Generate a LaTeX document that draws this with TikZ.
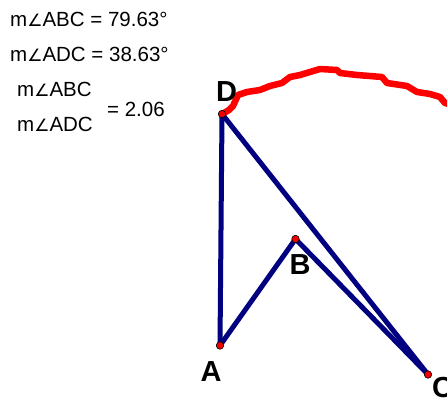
\documentclass[tikz,border=0pt]{standalone}
\usepackage{fontspec}
\setmainfont{Liberation Sans}
\newfontfamily\symfont{DejaVu Sans}
\usetikzlibrary{positioning}
\definecolor{navy}{HTML}{000080}
\definecolor{trace}{HTML}{FF0000}
\definecolor{ptred}{HTML}{F00000}
\newcommand{\ang}{{\symfont\fontsize{17}{17}\selectfont ∠}}
\tikzset{
  seg/.style={line width=5pt,draw=navy,line cap=round},
  locus/.style={line width=6.5pt,draw=trace,line join=round,line cap=round},
  pt/.style={circle,draw=black,fill=ptred,line width=0.6pt,inner sep=0pt,minimum size=7.5pt},
  ptlabel/.style={font=\fontsize{29}{29}\selectfont\bfseries,inner sep=0pt},
  measure/.style={font=\fontsize{20.5}{20.5}\selectfont,inner sep=0pt,anchor=base west}
}
\begin{document}
\begin{tikzpicture}[x=1pt,y=1pt]
  \useasboundingbox (0,0) rectangle (447,399);
  \clip (0,0) rectangle (447,399);

  \node[measure] (mabc) at (10,372) {m\ang ABC = 79.63°};
  \node[measure] (madc) at (10,337) {m\ang ADC = 38.63°};
  \node[measure] (num) at (17,302) {m\ang ABC};
  \node[measure] (den) at (17,267) {m\ang ADC};
  \node[measure,anchor=west] (ratio) at (107,290) {= 2.06};

  \draw[locus] plot coordinates {(224,286) (229,289) (233,293) (238,304) (247,307) (260,309)
    (270,313) (282,316) (290,322) (300,324) (310,327) (320,330) (337,329) (340,326)
    (357,324) (382,322) (387,316) (407,313) (417,307) (430,305) (440,302) (445,296) (452,294)};

  \coordinate (D) at (222,285);
  \coordinate (A) at (220,53.5);
  \coordinate (B) at (295.5,160);
  \coordinate (C) at (428,24.5);

  \draw[seg] (D) -- (A);
  \draw[seg] (A) -- (B);
  \draw[seg] (B) -- (C);
  \draw[seg] (D) -- (C);

  \foreach \p in {D,A,B,C}
    \node[pt] (dot\p) at (\p) {};

  \node[ptlabel] (labD) at (226.5,307) {D};
  \node[ptlabel] (labB) at (300,134) {B};
  \node[ptlabel] (labA) at (211,27) {A};
  \node[ptlabel] (labC) at (442.5,11.5) {C};
\end{tikzpicture}
\end{document}
